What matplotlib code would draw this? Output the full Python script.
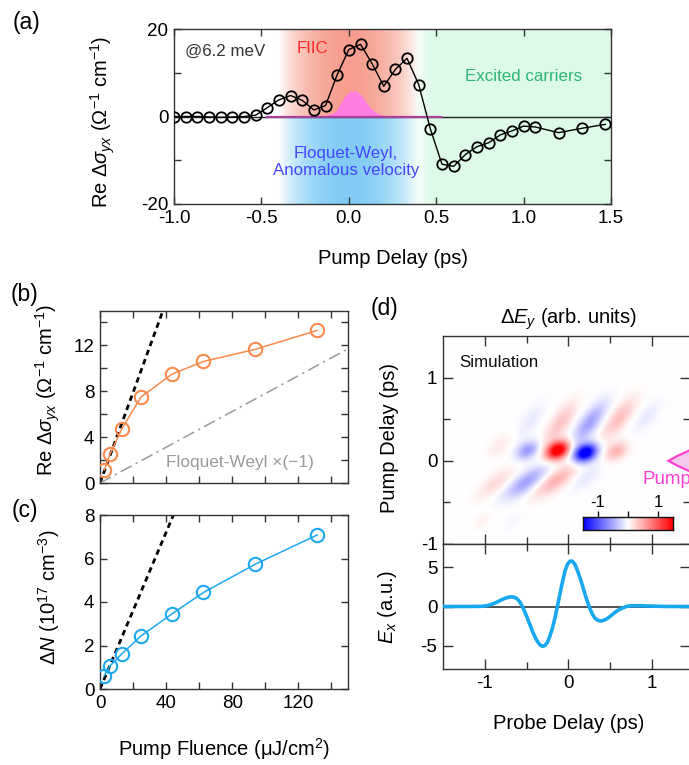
import numpy as np
import matplotlib
matplotlib.use("Agg")
import matplotlib.pyplot as plt
from matplotlib.ticker import MultipleLocator, FixedLocator

plt.rcParams['font.family'] = ['Liberation Sans', 'DejaVu Sans']
plt.rcParams['mathtext.fontset'] = 'custom'
plt.rcParams['mathtext.rm'] = 'Liberation Sans'
plt.rcParams['mathtext.it'] = 'Liberation Sans:italic'
plt.rcParams['mathtext.bf'] = 'Liberation Sans:bold'
plt.rcParams['axes.unicode_minus'] = False

# ---------------- data ----------------
# (a) pump-delay scan at 6.2 meV
delay_a = [-1.0, -0.933, -0.867, -0.8, -0.733, -0.667, -0.6, -0.533, -0.467, -0.4,
           -0.333, -0.267, -0.2, -0.133, -0.067, 0.0, 0.067, 0.133, 0.2, 0.267,
           0.333, 0.4, 0.467, 0.533, 0.6, 0.667, 0.733, 0.8, 0.867, 0.933,
           1.0, 1.067, 1.2, 1.333, 1.467]
sigma_a = [0.0, 0.0, 0.0, -0.1, -0.2, -0.1, 0.0, 0.3, 2.0, 3.8,
           4.8, 3.7, 1.5, 2.5, 9.5, 15.3, 16.5, 12.1, 6.9, 10.8,
           13.3, 7.3, -2.9, -10.9, -11.4, -8.7, -6.9, -6.0, -4.2, -3.3,
           -2.2, -2.4, -3.7, -2.7, -1.8]
# pump pulse profile (magenta)
pump_t = [-0.47, -0.22, -0.16, -0.12, -0.09, -0.07, -0.05, -0.03, -0.015, 0.0, 0.01,
          0.02, 0.03, 0.04, 0.05, 0.06, 0.07, 0.08, 0.10, 0.12, 0.14, 0.16, 0.18,
          0.20, 0.24, 0.28, 0.53]
pump_v = [0.0, 0.0, 0.15, 0.4, 0.8, 1.4, 2.8, 4.2, 5.0, 5.4, 5.9,
          5.6, 6.1, 5.8, 5.6, 5.2, 4.9, 4.4, 3.2, 2.1, 1.4, 0.84, 0.45,
          0.23, 0.05, 0.0, 0.0]

# (b), (c) fluence dependence
fluence = [2.6, 6.0, 13.1, 24.8, 43.6, 62.6, 93.7, 131.3]
sigma_b = [1.13, 2.5, 4.7, 7.5, 9.5, 10.6, 11.65, 13.3]
dN_c = [0.61, 1.06, 1.61, 2.44, 3.46, 4.44, 5.73, 7.08]
lin_b_x = [0, 38]
lin_b_y = [0, 15]
fw_x = [0, 150]
fw_y = [0, 11.7]
lin_c_x = [0, 44.4]
lin_c_y = [0, 8]

# (d) simulated Delta E_y map: lobes (probe delay, pump delay, amplitude,
#     long width, short width, orientation in degrees)
lobe_probe = [-0.49, -0.13, 0.20, 0.57, -0.82,
              -0.45, -0.10, 0.25, 0.60, 0.93,
              -0.87, -0.51, -0.15, 0.21, -1.03, -0.67]
lobe_pump = [0.12, 0.12, 0.09, 0.11, 0.18,
             0.48, 0.45, 0.45, 0.50, 0.52,
             -0.27, -0.26, -0.24, -0.20, -0.72, -0.74]
lobe_amp = [-0.6, 1.8, -1.8, 0.45, 0.12,
            -0.12, 0.35, -0.55, 0.38, -0.12,
            0.22, -0.55, 0.45, -0.13, 0.08, -0.05]
lobe_long = [0.10, 0.10, 0.10, 0.10, 0.12,
             0.17, 0.20, 0.20, 0.20, 0.16,
             0.19, 0.20, 0.20, 0.15, 0.09, 0.09]
lobe_short = [0.068, 0.07, 0.07, 0.068, 0.07,
              0.068, 0.072, 0.072, 0.072, 0.068,
              0.068, 0.072, 0.072, 0.068, 0.05, 0.05]
lobe_ang = [30, 25, 25, 30, 40,
            55, 55, 53, 52, 50,
            38, 36, 36, 40, 40, 40]

# (d) probe field E_x
probe_t = [-1.5, -1.2, -1.05, -1.0, -0.95, -0.9, -0.85, -0.8, -0.75, -0.70, -0.66,
           -0.62, -0.58, -0.54, -0.50, -0.46, -0.42, -0.38, -0.34, -0.31, -0.28,
           -0.25, -0.22, -0.19, -0.16, -0.13, -0.10, -0.07, -0.04, -0.01, 0.02,
           0.05, 0.08, 0.11, 0.14, 0.17, 0.20, 0.23, 0.26, 0.29, 0.32, 0.36,
           0.40, 0.44, 0.48, 0.52, 0.56, 0.60, 0.65, 0.70, 0.75, 0.85, 1.0, 1.2, 1.5]
probe_E = [0.0, 0.0, 0.02, 0.06, 0.17, 0.35, 0.58, 0.85, 1.08, 1.22, 1.22,
           1.05, 0.6, -0.2, -1.2, -2.3, -3.4, -4.3, -4.9, -5.1, -5.0,
           -4.6, -3.8, -2.8, -1.5, 0.0, 1.6, 3.1, 4.5, 5.4, 5.8,
           5.8, 5.4, 4.6, 3.7, 2.7, 1.6, 0.6, -0.3, -1.0, -1.5, -1.8,
           -1.85, -1.7, -1.45, -1.1, -0.75, -0.45, -0.2, 0.02, 0.1, 0.1, 0.05, 0.0, 0.0]

# pump pulse marker in (d)
pmark_x = [1.62, 1.42, 1.30, 1.20, 1.30, 1.42, 1.62]
pmark_y = [0.21, 0.11, 0.055, 0.0, -0.055, -0.11, -0.21]

# ---------------- figure ----------------
W, H = 689, 765
fig = plt.figure(figsize=(W / 100, H / 100), dpi=100)

def fax(l, t, r, b):
    return fig.add_axes([l / W, 1 - b / H, (r - l) / W, (b - t) / H])

SPC = '#333333'
TICKFS = 13.5
LABFS = 14.5

def style(ax):
    for s in ax.spines.values():
        s.set_color(SPC)
        s.set_linewidth(1.0)
    ax.tick_params(which='both', direction='in', top=True, right=True,
                   length=5, width=1, color=SPC, labelsize=TICKFS, pad=4)

# ---- (a)
axa = fax(174, 29, 611, 204)
style(axa)
axa.set_xlim(-1.0, 1.5)
axa.set_ylim(-20, 20)
# background shading
xg = np.linspace(-1.0, 1.5, 800)
img = np.ones((2, xg.size, 3))
a_rb = np.clip(1 - (np.abs(xg) / 0.40) ** 2, 0, 1) ** 0.85
red = np.array([247, 158, 142]) / 255
blue = np.array([128, 204, 245]) / 255
green = np.array([221, 250, 233]) / 255
img[0] = img[0] * (1 - a_rb[:, None]) + red[None, :] * a_rb[:, None]
img[1] = img[1] * (1 - a_rb[:, None]) + blue[None, :] * a_rb[:, None]
a_g = np.clip((xg - 0.36) / 0.12, 0, 1)
for r in range(2):
    img[r] = img[r] * (1 - a_g[:, None]) + green[None, :] * a_g[:, None]
axa.imshow(img, extent=[-1.0, 1.5, -20, 20], aspect='auto', origin='upper',
           interpolation='nearest', zorder=0)
axa.fill_between(pump_t, 0, pump_v, color='#ff7de0', lw=0, zorder=2)
axa.plot([pump_t[0], pump_t[-1]], [0, 0], color='#a8409c', lw=1.6, zorder=2.5)
axa.axhline(0, color='#222222', lw=1.0, zorder=2.2)
axa.plot(delay_a, sigma_a, '-o', color='black', lw=1.0, ms=7.5, mfc='none',
         mec='black', mew=1.3, zorder=3)
axa.yaxis.set_major_locator(FixedLocator([-20, -10, 0, 10, 20]))
axa.set_yticklabels(['-20', '', '0', '', '20'])
axa.set_xticks(np.arange(-1.0, 1.51, 0.5))
axa.set_xticklabels(['-1.0', '-0.5', '0.0', '0.5', '1.0', '1.5'])
axa.text(-0.937, 14.8, '@6.2 meV', fontsize=12.2, color='#333333', va='center', ha='left', zorder=4)
axa.text(-0.21, 15.5, 'FIIC', fontsize=12.2, color='#ff2a2a', va='center', ha='center', zorder=4)
axa.text(1.0, 9.2, 'Excited carriers', fontsize=12.2, color='#2fb577', va='center', ha='center', zorder=4)
axa.text(-0.015, -10.4, 'Floquet-Weyl,\nAnomalous velocity', fontsize=12.2, color='#4646ff',
         va='center', ha='center', linespacing=1.15, zorder=4)
axa.set_xlabel('Pump Delay (ps)', fontsize=LABFS)
axa.xaxis.set_label_coords(0.5, -0.255)
axa.set_ylabel(r'Re $\mathit{\Delta\sigma}_{yx}$ ($\Omega^{-1}$ cm$^{-1}$)', fontsize=LABFS)
axa.yaxis.set_label_coords(-0.13, 0.47)

# ---- (b)
axb = fax(100, 311, 348, 483)
style(axb)
axb.set_xlim(0, 150)
axb.set_ylim(0, 15)
axb.plot(lin_b_x, lin_b_y, ls=(0, (2, 1.5)), color='black', lw=2.0, zorder=2)
axb.plot(fw_x, fw_y, ls=(0, (8, 3, 1.5, 3)), color='#999999', lw=1.1, zorder=2)
axb.plot(fluence, sigma_b, '-o', color='#f98a4c', lw=1.1, ms=9.6, mfc='none',
         mec='#f98a4c', mew=1.5, zorder=3)
axb.xaxis.set_major_locator(MultipleLocator(20))
axb.set_xticklabels([])
axb.set_yticks(np.arange(0, 15, 2))
axb.set_yticklabels(['0', '', '4', '', '8', '', '12', ''])
axb.text(40, 1.75, 'Floquet-Weyl ×(−1)', fontsize=12.4, color='#999999', va='center', ha='left')
axb.set_ylabel(r'Re $\mathit{\Delta\sigma}_{yx}$ ($\Omega^{-1}$ cm$^{-1}$)', fontsize=LABFS)
axb.yaxis.set_label_coords(-0.153, 0.54)

# ---- (c)
axc = fax(100, 515, 348, 689)
style(axc)
axc.set_xlim(0, 150)
axc.set_ylim(0, 8)
axc.plot(lin_c_x, lin_c_y, ls=(0, (2, 1.5)), color='black', lw=2.0, zorder=2)
axc.plot(fluence, dN_c, '-o', color='#1ea8ef', lw=1.1, ms=9.6, mfc='none',
         mec='#1ea8ef', mew=1.5, zorder=3)
axc.set_xticks([0, 40, 80, 120])
axc.set_xticks([20, 60, 100, 140], minor=True)
axc.tick_params(which='minor', length=5)
axc.set_yticks([0, 2, 4, 6, 8])
axc.set_xlabel(r'Pump Fluence (μJ/cm$^2$)', fontsize=LABFS)
axc.xaxis.set_label_coords(0.5, -0.27)
axc.set_ylabel(r'$\Delta N$ ($10^{17}$ cm$^{-3}$)', fontsize=LABFS)
axc.yaxis.set_label_coords(-0.153, 0.53)

# ---- (d) map
XR = 1.46
axd = fax(443, 336, 443 + (XR + 1.5) * 83.5, 544)
style(axd)
pg = np.linspace(-1.5, XR, 500)
tg = np.linspace(-1.0, 1.5, 420)
P, T = np.meshgrid(pg, tg)
Z = np.zeros_like(P)
for pc, tc, a, sl, ss, ang in zip(lobe_probe, lobe_pump, lobe_amp, lobe_long, lobe_short, lobe_ang):
    th = np.deg2rad(ang)
    dx = P - pc
    dy = T - tc
    u = dx * np.cos(th) + dy * np.sin(th)
    v = -dx * np.sin(th) + dy * np.cos(th)
    Z += a * np.exp(-0.5 * (u / sl) ** 2 - 0.5 * (v / ss) ** 2)
axd.imshow(Z, origin='lower', extent=[-1.5, XR, -1.0, 1.5], aspect='auto',
           cmap='bwr', vmin=-1.5, vmax=1.5, interpolation='bilinear', zorder=0)
axd.set_xlim(-1.5, XR)
axd.set_ylim(-1.0, 1.5)
axd.set_xticks([-1, 0, 1])
axd.set_xticks([-0.5, 0.5], minor=True)
axd.set_xticklabels([])
axd.set_yticks([-1, 0, 1])
axd.set_yticks([-0.5, 0.5], minor=True)
axd.tick_params(which='major', length=7)
axd.tick_params(which='minor', length=5)
axd.spines['right'].set_visible(False)
axd.text(-1.31, 1.18, 'Simulation', fontsize=12.2, color='#111111', va='center', ha='left')
axd.fill(pmark_x, pmark_y, facecolor='#f6c8ee', edgecolor='#ff3fd2', lw=1.6,
         clip_on=False, zorder=5)
axd.text(0.885, -0.22, 'Pump', fontsize=13.5, color='#ff3fd2', va='center', ha='left',
         clip_on=False)
axd.set_ylabel('Pump Delay (ps)', fontsize=LABFS)
axd.yaxis.set_label_coords(-0.178, 0.51)
fig.text(568.5 / W, 1 - 319 / H, r'$\Delta E_y$ (arb. units)', fontsize=LABFS,
         ha='center', va='center')

# colorbar inset
cax = fax(583, 517, 673, 530)
cax.imshow(np.linspace(-1.5, 1.5, 256)[None, :], cmap='bwr', vmin=-1.5, vmax=1.5,
           extent=[-1.5, 1.5, 0, 1], aspect='auto')
cax.set_xlim(-1.5, 1.5)
cax.set_yticks([])
cax.set_xticks([-1, 0, 1])
cax.set_xticklabels(['-1', '', '1'])
cax.xaxis.tick_top()
cax.tick_params(axis='x', direction='out', length=4, width=1, labelsize=12, pad=1, color='#111111')
for s in cax.spines.values():
    s.set_linewidth(1.0)
    s.set_color('#111111')

# ---- (d) E_x
axe = fax(443, 544, 443 + (XR + 1.5) * 83.5, 669)
style(axe)
axe.axhline(0, color='#333333', lw=1.2, zorder=2)
axe.plot(probe_t, probe_E, color='#17a8f0', lw=2.6, zorder=3, solid_capstyle='round')
axe.set_xlim(-1.5, XR)
axe.set_ylim(-8, 8)
axe.set_xticks([-1, 0, 1])
axe.set_xticks([-0.5, 0.5], minor=True)
axe.set_yticks([-5, 0, 5])
axe.tick_params(which='major', length=7)
axe.tick_params(which='minor', length=5)
axe.spines['right'].set_visible(False)
axe.set_xlabel('Probe Delay (ps)', fontsize=LABFS)
axe.xaxis.set_label_coords(0.508, -0.36)
axe.set_ylabel(r'$E_x$ (a.u.)', fontsize=LABFS)
axe.yaxis.set_label_coords(-0.178, 0.5)

# panel letters
for lab, (px, py) in {'(a)': (27, 22), '(b)': (25, 294), '(c)': (25, 511), '(d)': (384, 308)}.items():
    fig.text(px / W, 1 - py / H, lab, fontsize=16.5, ha='center', va='center')

fig.savefig('out.png', dpi=100)
